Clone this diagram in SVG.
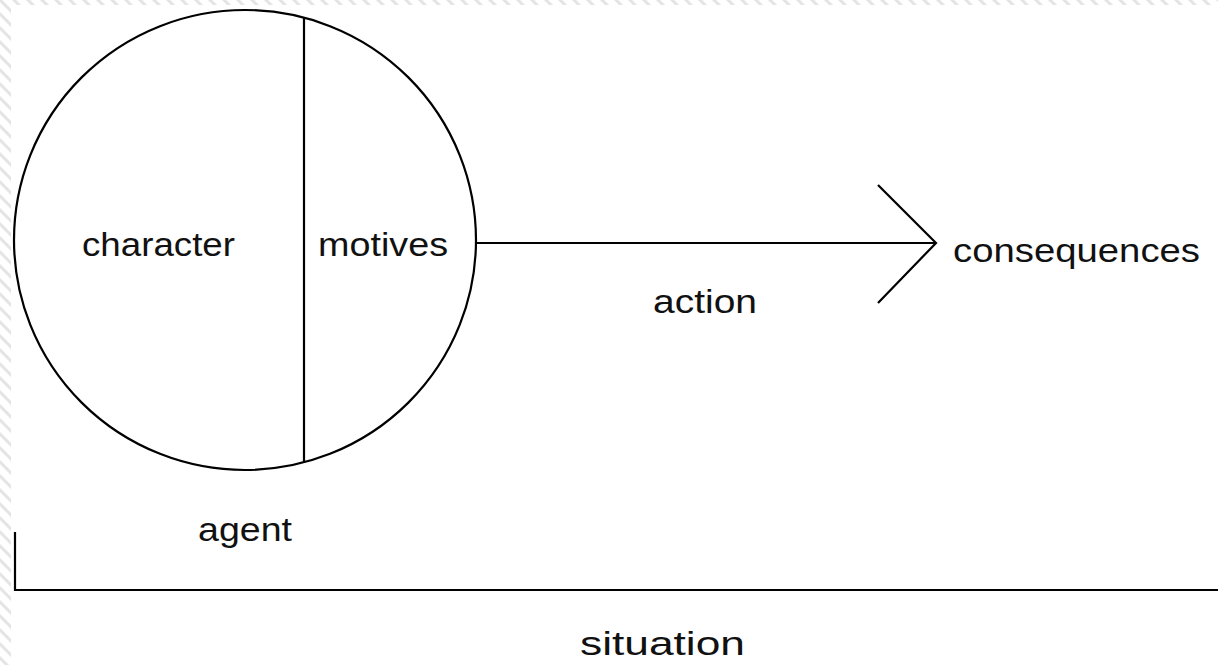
<svg xmlns="http://www.w3.org/2000/svg" width="1218" height="665" viewBox="0 0 1218 665">
  <style>
    .ln { stroke: #000; stroke-width: 2.2; fill: none; }
    .t { font-family: "Liberation Sans", Arial, sans-serif; font-size: 33px; fill: #111; }
  </style>
  <defs>
    <pattern id="hatch" width="14" height="14" patternUnits="userSpaceOnUse">
      <rect width="14" height="14" fill="#fff"/>
      <path d="M-4,-4 L18,18 M-4,10 L4,18 M10,-4 L18,4" stroke="#e4e4e4" stroke-width="3"/>
    </pattern>
  </defs>
  <rect x="0" y="0" width="1218" height="665" fill="url(#hatch)"/>
  <rect x="11" y="5" width="1207" height="660" fill="#fff"/>

  <g id="agent">
    <ellipse class="ln" cx="245" cy="240" rx="231" ry="230"/>
    <line class="ln" x1="304" y1="17" x2="304" y2="463"/>
    <text class="t" x="82" y="256" textLength="153" lengthAdjust="spacingAndGlyphs">character</text>
    <text class="t" x="318" y="256" textLength="130" lengthAdjust="spacingAndGlyphs">motives</text>
    <text class="t" x="198" y="541" textLength="94" lengthAdjust="spacingAndGlyphs">agent</text>
  </g>

  <g id="consequences">
    <text class="t" x="953" y="262" textLength="247" lengthAdjust="spacingAndGlyphs">consequences</text>
  </g>

  <g id="situation">
    <polyline class="ln" points="15,532 15,590 1218,590"/>
    <text class="t" x="580" y="655" textLength="165" lengthAdjust="spacingAndGlyphs">situation</text>
  </g>

  <g id="connectors">
    <line class="ln" x1="476" y1="243" x2="935" y2="243"/>
    <polyline class="ln" points="878,185 936,243 878,303"/>
    <text class="t" x="653" y="313" textLength="104" lengthAdjust="spacingAndGlyphs">action</text>
  </g>
</svg>
